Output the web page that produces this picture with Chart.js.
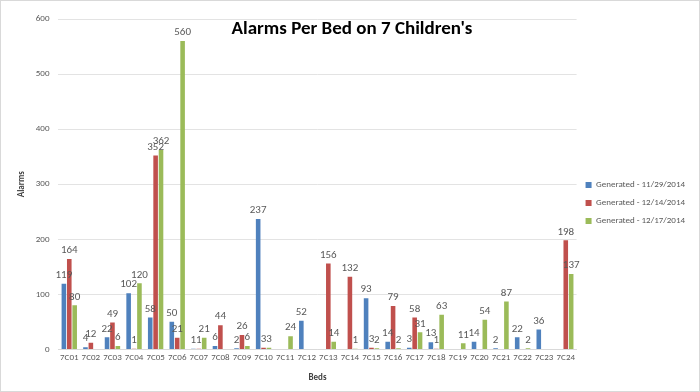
<!DOCTYPE html>
<html>
<head>
<meta charset="utf-8">
<script src="https://cdn.jsdelivr.net/npm/chart.js@4"></script>
<style>
  html, body { margin: 0; padding: 0; background: #fff; }
  #wrap { position: relative; width: 700px; height: 392px; box-sizing: border-box; border: 1px solid #d9d9d9; }
</style>
</head>
<body>
<div id="wrap"><canvas id="chart"></canvas></div>
<script>
const beds = ['7C01','7C02','7C03','7C04','7C05','7C06','7C07','7C08','7C09','7C10','7C11','7C12',
  '7C13','7C14','7C15','7C16','7C17','7C18','7C19','7C20','7C21','7C22','7C23','7C24'];
const nov29 = [119, 4, 22, 102, 58, 50, 1, 6, 2, 237, null, 52, null, null, 93, 14, 3, 13, null, 14, 2, 22, 36, null];
const dec14 = [164, 12, 49, 1, 352, 21, 1, 44, 26, 3, null, null, 156, 132, 3, 79, 58, 1, null, null, null, null, null, 198];
const dec17 = [80, null, 6, 120, 362, 560, 21, null, 6, 3, 24, null, 14, 1, 2, 2, 31, 63, 11, 54, 87, 2, null, 137];
const yTicks = [0, 100, 200, 300, 400, 500, 600];

const font = 'Calibri, "Liberation Sans", "Open Sans", sans-serif';

// value labels above each bar
const valueLabels = {
  id: 'valueLabels',
  afterDatasetsDraw(chart) {
    const c = chart.ctx;
    c.save();
    c.font = '11px ' + font;
    c.fillStyle = '#595959';
    c.textAlign = 'center';
    c.textBaseline = 'bottom';
    chart.data.datasets.forEach((ds, i) => {
      chart.getDatasetMeta(i).data.forEach((bar, j) => {
        const v = ds.data[j];
        if (v === null) return;
        c.fillText(String(v), bar.x, bar.y - 3);
      });
    });
    c.restore();
  }
};

// Excel style title sitting inside the plot area
const innerTitle = {
  id: 'innerTitle',
  afterDraw(chart) {
    const c = chart.ctx;
    c.save();
    c.font = 'bold 19px ' + font;
    c.fillStyle = '#000';
    c.textAlign = 'center';
    c.textBaseline = 'middle';
    c.fillText("Alarms Per Bed on 7 Children's", 351, 28);
    c.restore();
  }
};

new Chart(document.getElementById('chart'), {
  type: 'bar',
  data: {
    labels: beds,
    datasets: [
      { label: 'Generated - 11/29/2014', data: nov29, backgroundColor: '#4F81BD' },
      { label: 'Generated - 12/14/2014', data: dec14, backgroundColor: '#C0504D' },
      { label: 'Generated - 12/17/2014', data: dec17, backgroundColor: '#9BBB59' }
    ]
  },
  options: {
    responsive: true,
    maintainAspectRatio: false,
    animation: false,
    datasets: { bar: { categoryPercentage: 0.75, barPercentage: 0.85 } },
    layout: { padding: { top: 18, right: 4, bottom: 4, left: 11 } },
    plugins: {
      legend: {
        position: 'right',
        labels: {
          boxWidth: 6,
          boxHeight: 6,
          padding: 9,
          color: '#595959',
          font: { size: 9, family: font }
        }
      },
      tooltip: { enabled: false }
    },
    scales: {
      x: {
        grid: { display: false, drawTicks: false },
        border: { color: '#d9d9d9' },
        ticks: { color: '#595959', padding: 3, maxRotation: 0, autoSkip: false, font: { size: 9, family: font } },
        title: { display: true, text: 'Beds', color: '#404040', font: { size: 9, weight: 'bold', family: font }, padding: { top: 6 } }
      },
      y: {
        min: 0,
        max: 600,
        afterBuildTicks(axis) { axis.ticks = yTicks.map(v => ({ value: v })); },
        grid: { color: '#e3e3e3', drawTicks: false },
        border: { display: false },
        ticks: { color: '#595959', padding: 9, font: { size: 9, family: font } },
        title: { display: true, text: 'Alarms', color: '#404040', font: { size: 9, weight: 'bold', family: font }, padding: { bottom: 0 } }
      }
    }
  },
  plugins: [valueLabels, innerTitle]
});
</script>
</body>
</html>
